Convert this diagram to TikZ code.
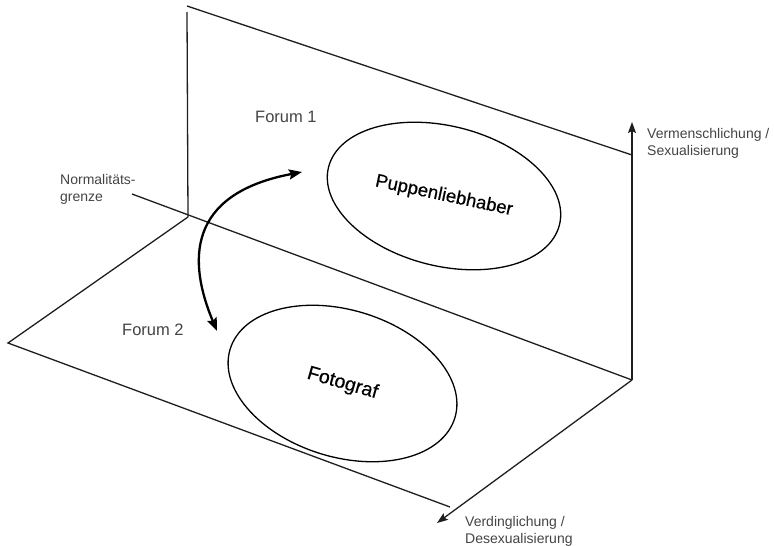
\documentclass[tikz,border=0pt]{standalone}
\usepackage{fontspec}
\setmainfont{Liberation Sans}
\newfontfamily\medfont[FakeBold=0.5]{Liberation Sans}
\usetikzlibrary{arrows.meta,shapes.geometric}
\definecolor{labelgray}{HTML}{444444}
\definecolor{linegray}{HTML}{1E1E1E}
\begin{document}
\begin{tikzpicture}[x=1pt,y=-1pt,
  plane/.style={draw=linegray,line width=1.3pt,line join=miter},
  axis/.style={draw=linegray,line width=1.3pt,-{Stealth[length=11pt,width=8pt,inset=2pt]}},
  swaparrow/.style={draw=black,line width=2.3pt,{Stealth[length=13pt,width=10pt,inset=2pt]}-{Stealth[length=13pt,width=10pt,inset=2pt]}},
  group/.style={draw=black,line width=1.3pt,ellipse,inner sep=0pt},
  side/.style={text=labelgray,font=\fontsize{14}{17}\selectfont,align=left,anchor=north west,inner sep=0pt},
  forum/.style={text=labelgray,font=\fontsize{16.5}{19}\selectfont,anchor=base west,inner sep=0pt}]
\useasboundingbox (0,0) rectangle (774,546);
% corners of the planes
\coordinate (O) at (188,217);
\coordinate (VT) at (187,6);
\coordinate (VB) at (187,12);
\coordinate (R) at (632,380);
\coordinate (RT) at (632,155);
\coordinate (Up) at (632,122);
\coordinate (NL) at (132,194);
\coordinate (L) at (8,343);
\coordinate (B) at (450,507);
\coordinate (Down) at (437,523);
% vertical plane
\draw[plane] (VB) -- (O);
\draw[plane] (VT) -- (RT);
\draw[axis] (R) -- (Up);
% boundary line
\draw[plane] (NL) -- (R);
% horizontal plane
\draw[plane] (O) -- (L) -- (B);
\draw[axis] (R) -- (Down);
% groups
\node[group,rotate=-14,minimum width=238pt,minimum height=140pt] (puppen) at (444,196) {};
\node[rotate=-12,font=\medfont\fontsize{18.5}{22}\selectfont] (puppentext) at (puppen.center) {Puppenliebhaber};
\node[group,rotate=-17,minimum width=235pt,minimum height=147pt] (foto) at (342.5,383.5) {};
\node[rotate=-16,font=\medfont\fontsize{19.5}{23}\selectfont] (fototext) at (foto.center) {Fotograf};
% curved arrow
\coordinate (a2) at (217,331);
\coordinate (a1) at (302,172);
\draw[swaparrow] (a2) .. controls (188,262) and (186,194) .. (a1);
% labels
\node[forum] (f1) at (255,122) {Forum 1};
\node[forum] (f2) at (122,335) {Forum 2};
\node[side] (norm) at (60,174) {Normalitäts-\\grenze};
\node[side] (verm) at (647,128) {Vermenschlichung /\\Sexualisierung};
\node[side] (verd) at (465,516) {Verdinglichung /\\Desexualisierung};
\end{tikzpicture}
\end{document}
